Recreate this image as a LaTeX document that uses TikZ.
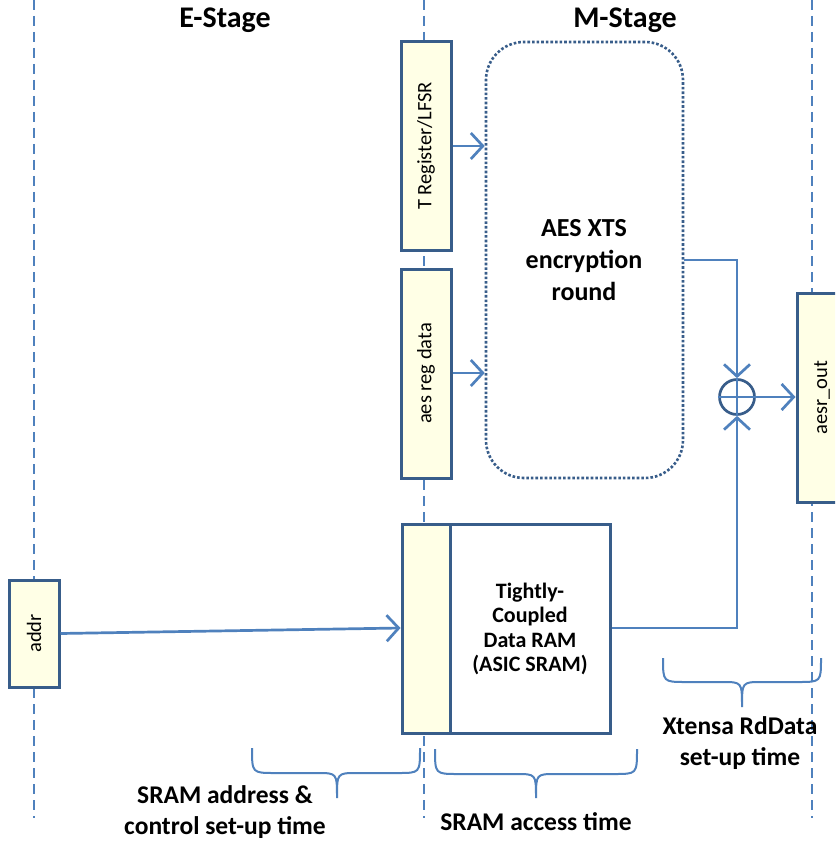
\documentclass[tikz,border=0pt]{standalone}
\usepackage{fontspec}
\setmainfont{Carlito}
\usetikzlibrary{arrows.meta}
\definecolor{lblue}{HTML}{4F81BD}
\definecolor{dblue}{HTML}{385D8A}
\definecolor{pyellow}{HTML}{FFFFE6}
\begin{document}
\begin{tikzpicture}[x=1pt,y=-1pt,
  regbox/.style={draw=dblue,line width=3pt,fill=pyellow,inner sep=0pt},
  rlabel/.style={rotate=90,font=\fontsize{20.5}{24}\selectfont},
  guide/.style={lblue,line width=1.1pt,dash pattern=on 10pt off 6pt},
  sig/.style={lblue,line width=2.7pt,-{Straight Barb[length=12pt,width=26pt,line width=2.7pt]}},
  bracepath/.style={lblue,line width=2pt},
  lbl/.style={font=\bfseries\fontsize{25.5}{31}\selectfont,align=center,inner sep=0pt},
  title/.style={font=\bfseries\fontsize{30}{34}\selectfont,inner sep=0pt}]
\clip (0,0) rectangle (835,842);
\fill[white] (0,0) rectangle (835,842);
% guides
\draw[guide] (34,0) -- (34,818);
\draw[guide] (424,0) -- (424,818);
\draw[guide] (812,0) -- (812,818);
% titles
\node[title] (es) at (225,20) {E-Stage};
\node[title] (ms) at (625,20) {M-Stage};
% registers
\node[regbox,minimum width=50pt,minimum height=208pt] (treg) at (426,146) {};
\node[rlabel] (tregl) at (treg.center) {T Register/LFSR};
\node[regbox,minimum width=50pt,minimum height=209pt] (areg) at (426,373.5) {};
\node[rlabel] (aregl) at (areg.center) {aes reg data};
\node[regbox,minimum width=50pt,minimum height=209pt] (aout) at (822,397.5) {};
\node[rlabel] (aoutl) at (aout.center) {aesr\_out};
\node[regbox,minimum width=50pt,minimum height=107pt] (addr) at (34,633.5) {};
\node[rlabel] (addrl) at (addr.center) {addr};
% AES round
\node[draw=dblue,line width=2.6pt,dotted,rounded corners=38pt,minimum width=197pt,minimum height=436pt,inner sep=0pt] (aes) at (584.5,260) {};
\node[lbl,font=\bfseries\fontsize{26}{32}\selectfont] (aesl) at (584,260) {AES XTS\\encryption\\round};
% SRAM
\node[draw=dblue,line width=3pt,fill=white,minimum width=208pt,minimum height=209pt,inner sep=0pt] (sram) at (506,628.5) {};
\node[regbox,minimum width=48pt,minimum height=209pt] (sramr) at (426,628.5) {};
\node[font=\bfseries\fontsize{22}{24.5}\selectfont,align=center,inner sep=0pt] (sraml) at (530,629) {Tightly-\\Coupled\\Data RAM\\(ASIC SRAM)};
% XOR
\node[draw=dblue,line width=2.7pt,circle,minimum size=35pt,inner sep=0pt] (xor) at (737,397) {};
\draw[lblue,line width=1.5pt] (xor.north) -- (xor.south) (xor.west) -- (xor.east);
% signals
\draw[sig] (treg.east |- 0,146) -- (aes.west |- 0,146);
\draw[sig] (areg.east |- 0,373) -- (aes.west |- 0,373);
\coordinate (c1) at (737,260);
\draw[sig] (aes.east |- 0,260) -- (c1) -- (xor.north);
\coordinate (c2) at (737,628);
\draw[sig] (sram.east |- 0,628) -- (c2) -- (xor.south);
\draw[sig] (xor.east) -- (aout.west |- xor.east);
\draw[sig] (addr.east) -- (sramr.west |- 0,628);
% braces
\draw[bracepath] (252,748) .. controls (252,773) .. (275,773) -- (317,773) .. controls (337,773) .. (337,798)
  .. controls (337,773) .. (357,773) -- (398,773) .. controls (420,773) .. (420,748);
\draw[bracepath] (435,749) .. controls (435,774) .. (458,774) -- (516,774) .. controls (536,774) .. (536,798)
  .. controls (536,774) .. (556,774) -- (614,774) .. controls (637,774) .. (637,749);
\draw[bracepath] (663,658) .. controls (663,682) .. (686,682) -- (722,682) .. controls (742,682) .. (742,707)
  .. controls (742,682) .. (762,682) -- (798,682) .. controls (821,682) .. (821,658);
% brace labels
\node[lbl] (t1) at (225,812) {SRAM address \&\\control set-up time};
\node[lbl] (t2) at (536,822) {SRAM access time};
\node[lbl] (t3) at (740,743) {Xtensa RdData\\set-up time};
\end{tikzpicture}
\end{document}
